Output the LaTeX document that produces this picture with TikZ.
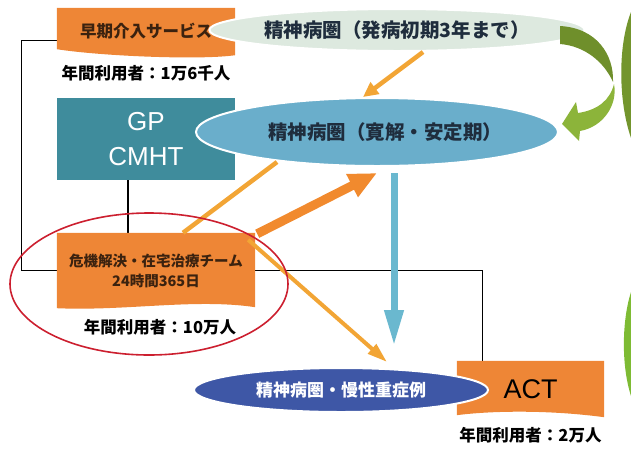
\documentclass[tikz,border=0pt]{standalone}
\usepackage{fontspec}
\setmainfont{Noto Sans CJK JP}
\newfontfamily\latinsf{Liberation Sans}
\definecolor{servorange}{HTML}{EE8636}
\definecolor{gpteal}{HTML}{3F8C9C}
\definecolor{onsetgreen}{HTML}{DDE9DF}
\definecolor{calmblue}{HTML}{6AAECB}
\definecolor{chronicblue}{HTML}{3E57A6}
\definecolor{ringred}{HTML}{CC1F2F}
\definecolor{flowthin}{HTML}{F2A535}
\definecolor{flowthick}{HTML}{F18A2E}
\definecolor{downblue}{HTML}{6AB8CF}
\definecolor{leafdark}{HTML}{6F8F2B}
\definecolor{leaflight}{HTML}{8CB43A}
\definecolor{textbrown}{HTML}{3B220F}
\definecolor{textnavy}{HTML}{1F2D3D}
\usetikzlibrary{positioning,arrows.meta,backgrounds,calc,shapes.geometric}

\begin{document}
\begin{tikzpicture}[x=1pt,y=-1pt,every node/.style={align=center,inner sep=0pt},
    service/.style={minimum width=178pt,text=textbrown,font=\bfseries\fontsize{16.5}{18}\selectfont},
    users/.style={font=\bfseries\fontsize{16.5}{18}\selectfont},
    phase/.style={ellipse,draw=white,line width=2pt,text=textnavy,font=\bfseries\fontsize{19.5}{22}\selectfont},
    link/.style={line width=1.2pt},
    thinflow/.style={flowthin,line width=4.5pt,-{Triangle[length=15pt,width=14pt]}}]
  \useasboundingbox (0,0) rectangle (631,448);

  % services (left column)
  \node[service,minimum height=47pt] (early) at (146,31.5) {早期介入サービス};
  \node[users,below=10pt of early] (earlyusers) {年間利用者：1万6千人};
  \node[fill=gpteal,minimum width=178pt,minimum height=82pt,text=white,
        font=\latinsf\fontsize{26}{35}\selectfont] (gp) at (146,139) {GP\\CMHT};
  \node[service,minimum width=198pt,minimum height=75pt,
        font=\bfseries\fontsize{14.5}{20}\selectfont] (crisis) at (156,270.5)
        {危機解決・在宅治療チーム\\24時間365日};
  \node[users] (crisisusers) at (160,327) {年間利用者：10万人};
  \node[minimum width=147pt,minimum height=56pt,
        font=\latinsf\fontsize{27}{30}\selectfont] (act) at (530.5,389) {ACT};
  \node[users,below=10pt of act] (actusers) {年間利用者：2万人};

  % box fills and links behind everything
  \begin{scope}[on background layer]
    \draw[link] ([yshift=-9pt]early.west) -| ([xshift=-35pt]crisis.west) -- (crisis.west);
    \draw[link] ([xshift=-18pt]gp.south) -- ([xshift=-18pt]gp.south |- crisis.north);
    \draw[link] (crisis.east) -| ([xshift=-48pt]act.north);
    \fill[servorange] (early.north west) -- (early.north east) -- (early.south east)
      .. controls ($(early.south east)+(-35,5)$) and ($(early.south west)+(45,1)$)
      .. ($(early.south west)+(0,-6)$) -- cycle;
    \fill[servorange] (crisis.north west) -- (crisis.north east) -- ($(crisis.south east)+(0,-1)$)
      .. controls ($(crisis.south east)+(-60,-10)$) and ($(crisis.south west)+(70,3)$)
      .. (crisis.south west) -- cycle;
    \fill[servorange] (act.north west) -- (act.north east) -- (act.south east)
      .. controls ($(act.south east)+(-60,-8)$) and ($(act.south west)+(30,-6)$)
      .. ($(act.south west)+(0,-2)$) -- cycle;
  \end{scope}

  % phases of illness
  \node[phase,fill=onsetgreen,minimum width=340pt,minimum height=42pt] (onset) at (397,30)
       {精神病圏（発病初期3年まで）};
  \node[phase,fill=calmblue,minimum width=362pt,minimum height=68pt] (calm) at (377,132)
       {\hspace*{16pt}精神病圏（寛解・安定期）};
  \node[phase,fill=chronicblue,text=white,minimum width=294pt,minimum height=44pt,
        font=\bfseries\fontsize{17}{19}\selectfont] (chronic) at (341,390) {精神病圏・慢性重症例};

  % flows between phases and teams
  \draw[thinflow] ([xshift=26pt]onset.south) -- ([xshift=-14pt]calm.north);
  \draw[flowthin,line width=4.5pt] ($(calm.center)+(-100,30)$) -- ([xshift=27pt]crisis.north);
  \draw[flowthick,line width=9pt,-{Triangle[length=28pt,width=24pt]}]
       ([xshift=2pt,yshift=-1pt]crisis.north east) -- ([yshift=-6pt]calm.south);
  \draw[flowthin,line width=4pt,-{Triangle[length=20pt,width=12pt]}]
       ([xshift=-7pt,yshift=-7pt]crisis.north east) -- ([xshift=46pt,yshift=5pt]chronic.north);
  \draw[downblue,line width=7pt,-{Triangle[length=36pt,width=18pt]}]
       ([xshift=17pt,yshift=-6pt]calm.south) -- ([xshift=53pt,yshift=21pt]chronic.north);

  \node[draw=ringred,ellipse,line width=1.6pt,minimum width=278pt,minimum height=142pt]
       (ring) at (149,284) {};

  % turning arrow on the right
  \fill[leafdark] (560,26) .. controls (597,28) and (614,55) .. (613,82)
                  .. controls (604,62) and (585,46) .. (560,44) -- cycle;
  \fill[leaflight] (614,84) .. controls (610,100) and (598,110) .. (578,113)
                   -- (576,102) -- (562,124) -- (579,141) -- (580,131)
                   .. controls (603,127) and (618,105) .. (614,84) -- cycle;
  \fill[leafdark!85!leaflight] (631,12) .. controls (618,45) and (618,100) .. (631,138) -- cycle;
  \fill[leaflight!90!green] (631,292) .. controls (622,320) and (621,365) .. (631,396) -- cycle;
\end{tikzpicture}
\end{document}
